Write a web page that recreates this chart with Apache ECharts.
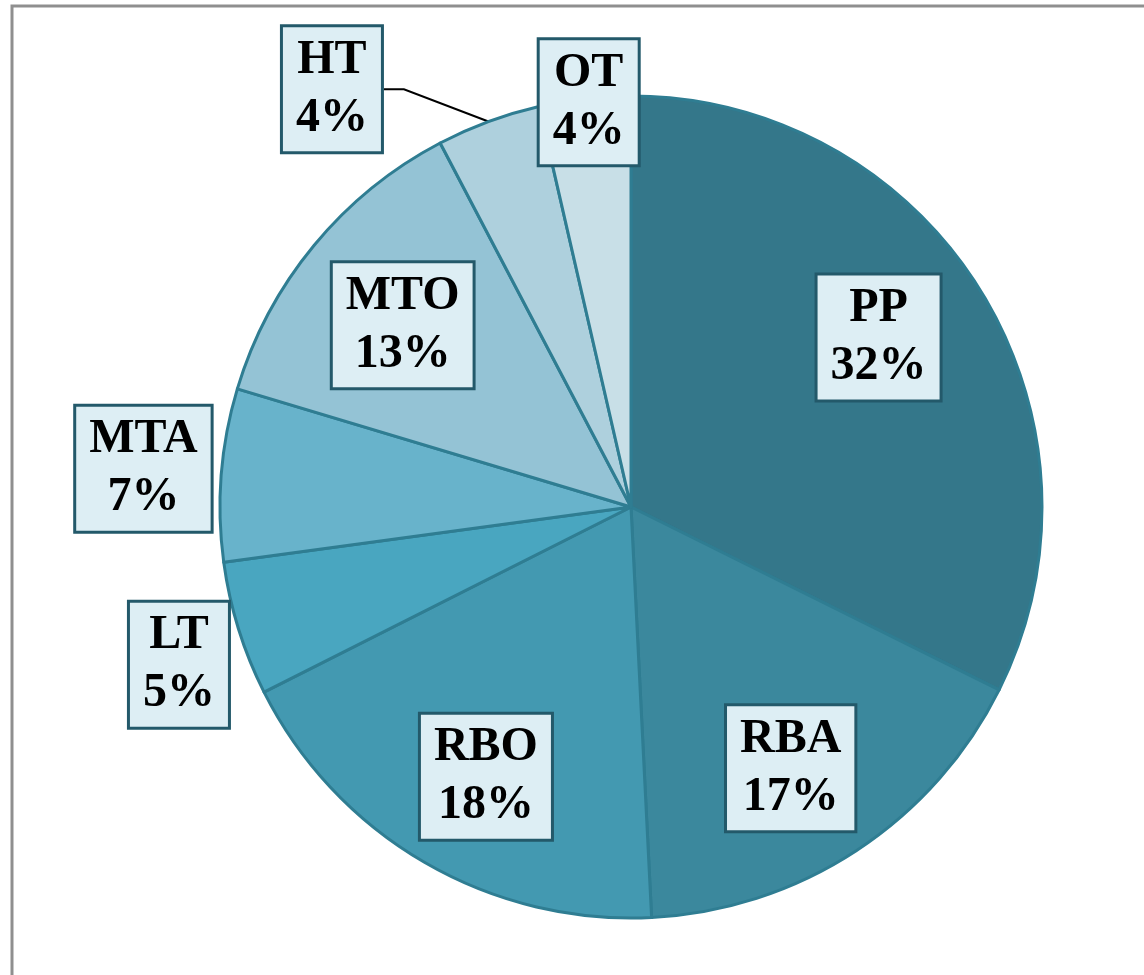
<!DOCTYPE html>
<html>
<head>
<meta charset="utf-8">
<script src="https://cdn.jsdelivr.net/npm/echarts@6/dist/echarts.min.js"></script>
<style>
  html, body { margin: 0; padding: 0; background: #fff; }
  #chart { width: 1144px; height: 975px; }
</style>
</head>
<body>
<div id="chart"></div>
<script>
  const categories = ['PP', 'RBA', 'RBO', 'LT', 'MTA', 'MTO', 'HT', 'OT']
  const shares = [32.4, 16.9, 18.4, 5.3, 6.8, 12.7, 4.1, 3.6]
  const sliceColors = ['#34778a', '#3b889d', '#4399b1', '#49a6c0', '#68b3cb', '#94c3d5', '#aed0dd', '#c8dfe7']

  // label box placement: fraction of radius along the slice middle, and a small turn (deg)
  const labelRadius = [0.73, 0.745, 0.745, 1.165, 1.19, 0.71, 1.25, 0.99]
  const labelTurn = [-2.6, 1.8, -1.9, -2, 0, -1, -15.3, 0.5]

  const CX = 631, CY = 507, R = 411
  const total = shares.reduce((a, b) => a + b, 0)

  const chart = echarts.init(document.getElementById('chart'))
  chart.setOption({
    animation: false,
    graphic: [{
      type: 'rect',
      shape: { x: 12, y: 6, width: 1400, height: 1200 },
      style: { fill: 'none', stroke: '#8f8f8f', lineWidth: 3 },
      z: -1
    }],
    series: [{
      type: 'pie',
      center: [CX, CY],
      radius: R,
      startAngle: 90,
      clockwise: true,
      avoidLabelOverlap: false,
      itemStyle: {
        borderColor: '#2f7d92',
        borderWidth: 3
      },
      label: {
        show: true,
        position: 'outside',
        formatter: function (p) {
          return p.name + '\n' + Math.round(p.percent) + '%'
        },
        fontFamily: 'Liberation Serif',
        fontWeight: 'bold',
        fontSize: 48,
        lineHeight: 58,
        color: '#000',
        backgroundColor: '#ddeef4',
        borderColor: '#23596a',
        borderWidth: 3,
        padding: [5, 13, 3, 13]
      },
      labelLine: { show: false },
      labelLayout: function (p) {
        const i = p.dataIndex
        let before = 0
        for (let k = 0; k < i; k++) before += shares[k]
        const deg = (before + shares[i] / 2) / total * 360 + labelTurn[i]
        const rad = deg * Math.PI / 180
        const r = R * labelRadius[i]
        return {
          x: CX + r * Math.sin(rad),
          y: CY - r * Math.cos(rad),
          align: 'center',
          verticalAlign: 'middle'
        }
      },
      data: categories.map((name, i) => ({
        name: name,
        value: shares[i],
        itemStyle: { color: sliceColors[i] },
        labelLine: name === 'HT'
          ? { show: true, length: 10, length2: 20, lineStyle: { color: '#000', width: 2 } }
          : { show: false }
      }))
    }]
  })
</script>
</body>
</html>
